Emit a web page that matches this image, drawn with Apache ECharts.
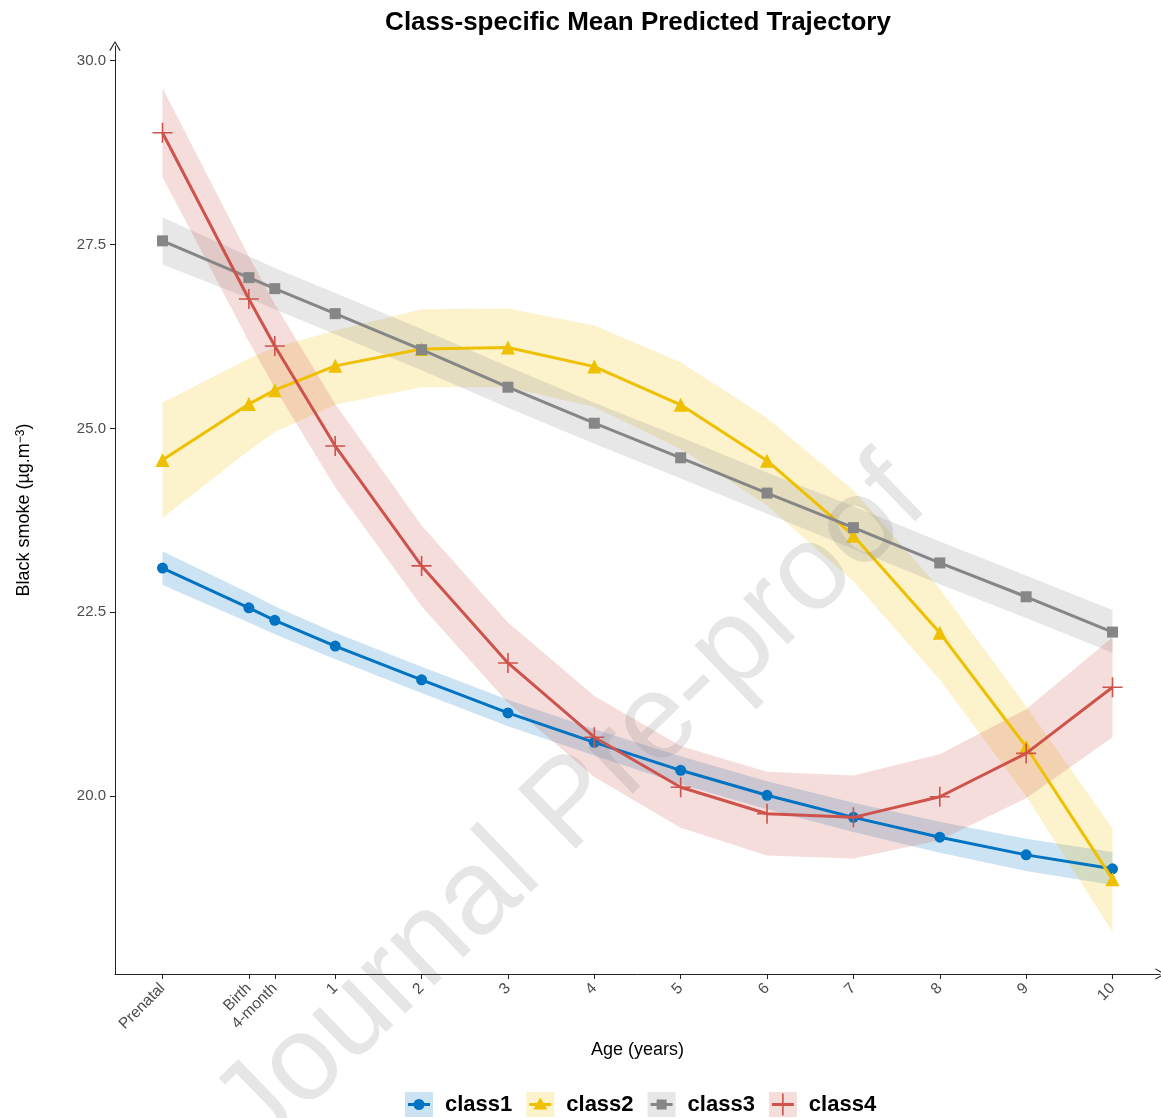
<!DOCTYPE html>
<html><head><meta charset="utf-8">
<script src="https://cdn.jsdelivr.net/npm/echarts@6/dist/echarts.min.js"></script>
<style>html,body{margin:0;padding:0;background:#fff}#c{width:1161px;height:1118px}</style>
</head><body><div id="c"></div>
<script>
// ---- data ----
const ageValues = [-1, 0, 0.3, 1, 2, 3, 4, 5, 6, 7, 8, 9, 10];
const ageLabels = ['Prenatal', 'Birth', '4-month', '1', '2', '3', '4', '5', '6', '7', '8', '9', '10'];
const yTicks = [20, 22.5, 25, 27.5, 30];
const classNames = ['class1', 'class2', 'class3', 'class4'];

const class1Mean = [23.10, 22.56, 22.39, 22.04, 21.58, 21.13, 20.73, 20.35, 20.01, 19.71, 19.44, 19.20, 19.01];
const class1Lo   = [22.87, 22.36, 22.20, 21.86, 21.40, 20.95, 20.55, 20.16, 19.82, 19.51, 19.23, 18.98, 18.79];
const class1Hi   = [23.33, 22.76, 22.58, 22.22, 21.76, 21.31, 20.91, 20.54, 20.20, 19.91, 19.65, 19.42, 19.24];

const class2Mean = [24.57, 25.33, 25.52, 25.85, 26.08, 26.10, 25.84, 25.32, 24.56, 23.54, 22.22, 20.67, 18.87];
const class2Lo   = [23.78, 24.70, 24.95, 25.32, 25.56, 25.56, 25.29, 24.72, 23.95, 22.92, 21.58, 20.00, 18.15];
const class2Hi   = [25.35, 25.95, 26.10, 26.33, 26.62, 26.63, 26.40, 25.90, 25.14, 24.16, 22.82, 21.22, 19.56];

const class3Mean = [27.55, 27.05, 26.90, 26.56, 26.07, 25.56, 25.07, 24.60, 24.12, 23.65, 23.17, 22.71, 22.23];
const class3Lo   = [27.23, 26.77, 26.62, 26.28, 25.79, 25.28, 24.79, 24.32, 23.84, 23.36, 22.88, 22.42, 21.95];
const class3Hi   = [27.87, 27.34, 27.18, 26.84, 26.35, 25.84, 25.35, 24.88, 24.40, 23.94, 23.46, 23.00, 22.53];

const class4Mean = [29.02, 26.76, 26.12, 24.76, 23.13, 21.81, 20.80, 20.12, 19.76, 19.71, 19.99, 20.58, 21.48];
const class4Lo   = [28.42, 26.18, 25.55, 24.20, 22.58, 21.27, 20.26, 19.57, 19.19, 19.15, 19.40, 19.97, 20.80];
const class4Hi   = [29.63, 27.34, 26.69, 25.33, 23.68, 22.36, 21.36, 20.68, 20.33, 20.28, 20.57, 21.18, 22.16];

// ---- styling ----
const FONT = '"Liberation Sans", Arial, sans-serif';
const lineColors = ['#0073C2', '#EFC000', '#868686', '#CD534C'];
const bandColors = ['rgba(0,115,194,0.2)', 'rgba(239,192,0,0.2)', 'rgba(134,134,134,0.2)', 'rgba(205,83,76,0.2)'];
const crossPath = 'path://M9.2,0h1.6v9.2h9.2v1.6h-9.2v9.2h-1.6v-9.2h-9.2v-1.6h9.2z';
const symbols = ['circle', 'triangle', 'rect', crossPath];
const symbolSizes = [11, 14, 11, 20];
const legendIcons = [
  'path://M0,0L0,0M28,25L28,25M3,11H25V14H3ZM8.5,12.5A5.5,5.5,0,1,1,19.5,12.5A5.5,5.5,0,1,1,8.5,12.5Z',
  'path://M0,0L0,0M28,25L28,25M3,11H25V14H3ZM14,5.5L21,17.5L7,17.5Z',
  'path://M0,0L0,0M28,25L28,25M3,11H25V14H3ZM9,7.5H19V17.5H9Z',
  'path://M0,0L0,0M28,25L28,25M3,11H25V14H3ZM13.2,1.5H14.8V23.5H13.2Z'
];

const means = [class1Mean, class2Mean, class3Mean, class4Mean];
const los = [class1Lo, class2Lo, class3Lo, class4Lo];
const his = [class1Hi, class2Hi, class3Hi, class4Hi];

const labelMap = new Map(ageValues.map((v, i) => [v, ageLabels[i]]));

const series = [];
classNames.forEach((name, i) => {
  const lo = los[i], hi = his[i];
  series.push({
    name: name + ' ',
    type: 'custom',
    z: 2,
    silent: true,
    itemStyle: { color: bandColors[i] },
    data: ageValues.map((x, k) => [x, lo[k], hi[k]]),
    encode: { x: 0, y: [1, 2] },
    renderItem: function (params, api) {
      if (params.dataIndex !== 0) return null;
      const pts = [];
      for (let k = 0; k < ageValues.length; k++) pts.push(api.coord([ageValues[k], hi[k]]));
      for (let k = ageValues.length - 1; k >= 0; k--) pts.push(api.coord([ageValues[k], lo[k]]));
      return { type: 'polygon', shape: { points: pts }, style: { fill: bandColors[i] } };
    }
  });
});
classNames.forEach((name, i) => {
  series.push({
    name: name,
    type: 'line',
    z: 3 + i,
    data: ageValues.map((x, k) => [x, means[i][k]]),
    symbol: symbols[i],
    symbolSize: symbolSizes[i],
    showAllSymbol: true,
    lineStyle: { color: lineColors[i], width: 3 },
    itemStyle: { color: lineColors[i] },
    emphasis: { disabled: true }
  });
});

const legendCommon = {
  left: 405, top: 1092, orient: 'horizontal', padding: 0,
  itemWidth: 28, itemHeight: 25, itemGap: 14,
  selectedMode: false,
  formatter: n => n.trim()
};

const chevron = 'path://M0,10L6,0L12,10L11,10.7L6,2.2L1,10.7Z';

const option = {
  backgroundColor: '#ffffff',
  animation: false,
  title: {
    text: 'Class-specific Mean Predicted Trajectory',
    left: 633, top: 5, textAlign: 'center',
    textStyle: { fontFamily: FONT, fontWeight: 'bold', fontSize: 26, color: '#000' }
  },
  grid: { left: 115, right: 1, top: 46, bottom: 144, containLabel: false },
  xAxis: {
    type: 'value', min: -1.55, max: 10.55,
    name: 'Age (years)', nameLocation: 'middle', nameGap: 67,
    nameTextStyle: { fontFamily: FONT, fontSize: 18, color: '#000' },
    axisLine: { show: true, onZero: false, symbol: ['none', chevron], symbolSize: [13, 10], lineStyle: { color: '#222', width: 1 } },
    axisTick: { show: true, length: 5, customValues: ageValues, lineStyle: { color: '#222' } },
    axisLabel: { customValues: ageValues, rotate: 45, margin: 12, fontFamily: FONT, fontSize: 15.5, color: '#4d4d4d',
      formatter: v => labelMap.has(v) ? labelMap.get(v) : '' },
    splitLine: { show: false }
  },
  yAxis: {
    type: 'value', min: 17.58, max: 30.2,
    name: 'Black smoke (µg.m{sup|−3})', nameLocation: 'middle', nameGap: 82, nameRotate: 90,
    nameTextStyle: { fontFamily: FONT, fontSize: 18, color: '#000',
      rich: { sup: { fontFamily: FONT, fontSize: 12, color: '#000', verticalAlign: 'top', padding: [0, 0, 0, 0] } } },
    axisLine: { show: true, onZero: false, symbol: ['none', chevron], symbolSize: [13, 10], lineStyle: { color: '#222', width: 1 } },
    axisTick: { show: true, length: 5, customValues: yTicks, lineStyle: { color: '#222' } },
    axisLabel: { customValues: yTicks, margin: 9, fontFamily: FONT, fontSize: 15, color: '#4d4d4d',
      formatter: v => v.toFixed(1) },
    splitLine: { show: false }
  },
  legend: [
    Object.assign({}, legendCommon, {
      data: classNames.map((n, i) => ({ name: n + ' ', icon: 'rect', itemStyle: { color: bandColors[i], borderWidth: 0 } })),
      textStyle: { fontFamily: FONT, fontSize: 22, fontWeight: 'bold', color: 'rgba(0,0,0,0)', padding: [0, 0, 9, 7] }
    }),
    Object.assign({}, legendCommon, {
      data: classNames.map((n, i) => ({ name: n, icon: legendIcons[i], itemStyle: { color: lineColors[i], borderWidth: 0 } })),
      textStyle: { fontFamily: FONT, fontSize: 22, fontWeight: 'bold', color: '#000', padding: [0, 0, 9, 7] }
    })
  ],
  graphic: [{
    type: 'text', x: 572, y: 806, rotation: 44 * Math.PI / 180, z: 100, silent: true,
    style: { text: 'Journal Pre-proof', fill: 'rgba(128,128,128,0.2)', font: '121px "Liberation Sans", Arial, sans-serif',
      textAlign: 'center', textVerticalAlign: 'middle', align: 'center', verticalAlign: 'middle' }
  }],
  series: series
};

const chart = echarts.init(document.getElementById('c'), null, { renderer: 'canvas' });
chart.setOption(option);
</script>
</body></html>
